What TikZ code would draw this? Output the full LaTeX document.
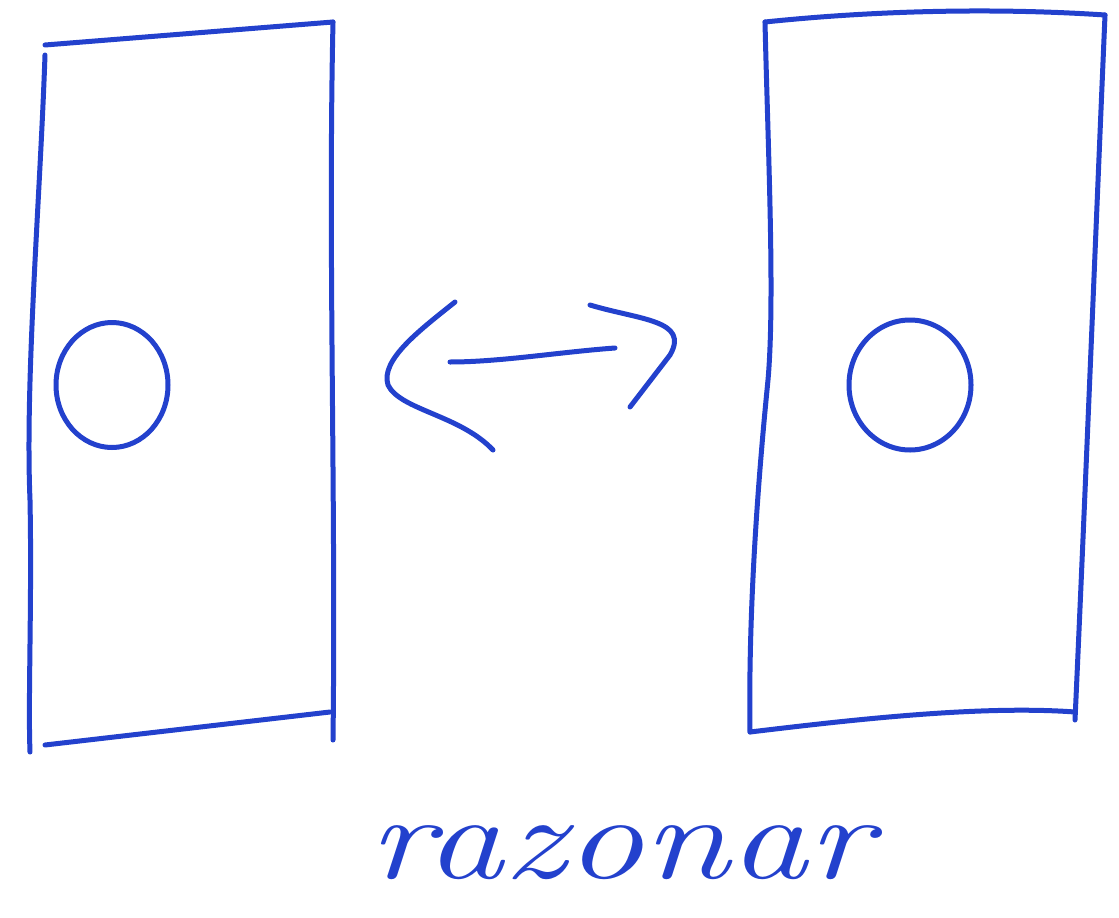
\documentclass[tikz,border=0pt]{standalone}
\usepackage{fontspec}
\usetikzlibrary{shapes.geometric}
\definecolor{pen}{RGB}{35,65,205}
\tikzset{ink/.style={draw=pen, line width=5pt, line cap=round, line join=round}}
\begin{document}
\begin{tikzpicture}[x=1pt,y=-1pt]
\useasboundingbox[fill=white] (0,0) rectangle (1119,918);
% left panel
\coordinate (l1) at (45,45); \coordinate (l2) at (333,22);
\coordinate (l3) at (333,740); \coordinate (l4) at (30,752);
\draw[ink] (l1) -- (l2);
\draw[ink] (l2) .. controls (328,250) and (336,500) .. (l3);
\draw[ink] (45,745) -- (330,712);
\draw[ink] (45,55) .. controls (40,200) and (25,380) .. (30,500) .. controls (32,600) and (28,700) .. (l4);
\node[ink, ellipse, minimum width=112pt, minimum height=125pt, inner sep=0pt] (c1) at (112,385) {};
% right panel
\coordinate (r1) at (765,22); \coordinate (r2) at (1105,15);
\coordinate (r3) at (1075,720); \coordinate (r4) at (750,732);
\draw[ink] (r1) .. controls (880,10) and (1000,8) .. (r2);
\draw[ink] (r2) .. controls (1095,250) and (1085,500) .. (r3);
\draw[ink] (r4) .. controls (850,720) and (980,705) .. (1075,712);
\draw[ink] (r1) .. controls (768,150) and (775,300) .. (768,380) .. controls (760,460) and (748,600) .. (r4);
\node[ink, ellipse, minimum width=122pt, minimum height=130pt, inner sep=0pt] (c2) at (910,385) {};
% arrow
\coordinate (a1) at (455,302); \coordinate (a2) at (493,450);
\draw[ink] (a1) .. controls (420,330) and (380,360) .. (388,385) .. controls (400,410) and (460,415) .. (a2);
\coordinate (s1) at (450,362); \coordinate (s2) at (615,348);
\draw[ink] (s1) .. controls (500,362) and (560,352) .. (s2);
\coordinate (b1) at (590,305); \coordinate (b2) at (630,407);
\draw[ink] (b1) .. controls (640,320) and (690,320) .. (670,355) -- (b2);
% label
\node[text=pen, font=\fontsize{120}{120}\selectfont\itshape, inner sep=0pt, xscale=1.3] (t) at (620,853) {razonar};
\end{tikzpicture}
\end{document}
